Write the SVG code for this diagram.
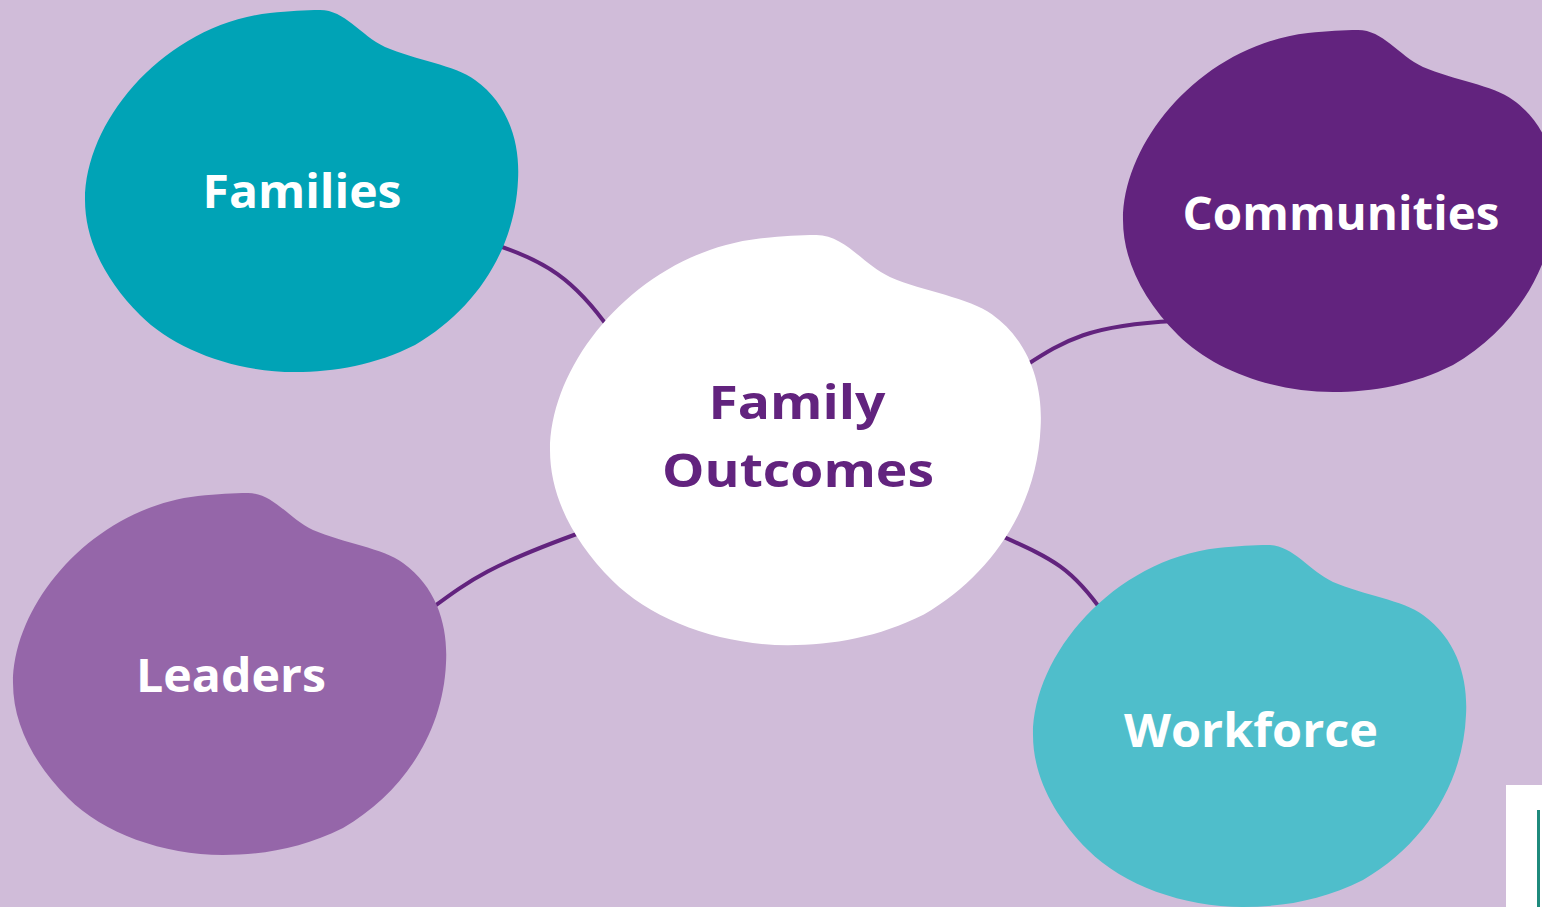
<svg xmlns="http://www.w3.org/2000/svg" width="1542" height="907" viewBox="0 0 1542 907">
<defs>
<style>
.lbl{font-family:"Open Sans","Liberation Sans",sans-serif;font-weight:700;font-size:46px;fill:#ffffff}
.ctr{fill:#62237e}
.conn{fill:none;stroke:#62237e;stroke-width:4;stroke-linecap:butt}
</style>
<path id="blob" d="M0,190 C0,110 80,15 185,3 C205,1 220,0 235,0 C260,0 275,25 300,37 C330,50 370,55 390,70 C425,95 435,135 433,170 C430,240 390,300 330,335 C290,355 250,362 210,362 C150,362 90,340 55,305 C20,270 0,230 0,190 Z"/>
</defs>
<rect width="1542" height="907" fill="#d0bcd9"/>
<g id="connectors">
<path class="conn" d="M490,243 C545,260 575,280 610,330"/>
<path class="conn" d="M1025,366 C1065,340 1090,325 1175,321"/>
<path class="conn" d="M432,608 C470,580 490,565 585,531"/>
<path class="conn" d="M995,533 C1050,558 1070,565 1104,614"/>
</g>
<g id="families">
<use href="#blob" transform="translate(85,10)" fill="#00a3b6"/>
<text class="lbl" x="302" y="208" text-anchor="middle" textLength="199" lengthAdjust="spacingAndGlyphs">Families</text>
</g>
<g id="communities">
<use href="#blob" transform="translate(1123,30)" fill="#62237e"/>
<text class="lbl" x="1341" y="230" text-anchor="middle" textLength="317" lengthAdjust="spacingAndGlyphs">Communities</text>
</g>
<g id="leaders">
<use href="#blob" transform="translate(13,493)" fill="#9566a9"/>
<text class="lbl" x="231" y="692" text-anchor="middle" textLength="190" lengthAdjust="spacingAndGlyphs">Leaders</text>
</g>
<g id="workforce">
<use href="#blob" transform="translate(1033,545)" fill="#4fbecb"/>
<text class="lbl" x="1251" y="747" text-anchor="middle" textLength="254" lengthAdjust="spacingAndGlyphs">Workforce</text>
</g>
<g id="family-outcomes">
<use href="#blob" transform="translate(550,235) scale(1.133)" fill="#ffffff"/>
<text class="lbl ctr" x="797" y="419" text-anchor="middle" textLength="177" lengthAdjust="spacingAndGlyphs">Family</text>
<text class="lbl ctr" x="798" y="487" text-anchor="middle" textLength="272" lengthAdjust="spacingAndGlyphs">Outcomes</text>
</g>
<rect x="1506" y="785" width="40" height="130" fill="#ffffff"/>
<line x1="1538.5" y1="810" x2="1538.5" y2="907" stroke="#1f8a7c" stroke-width="3"/>
</svg>
